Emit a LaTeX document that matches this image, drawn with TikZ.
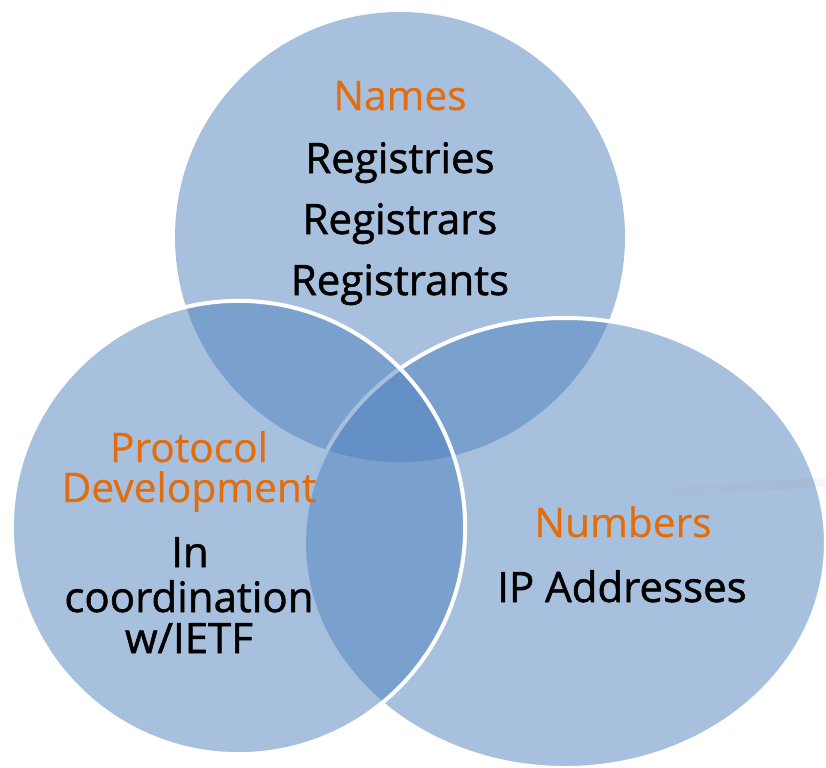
\documentclass[tikz,border=0pt]{standalone}
\usepackage{fontspec}
\setmainfont{Open Sans}
\newfontfamily\itemfont[FakeBold=1.2]{Open Sans}
\newfontfamily\headfont[FakeBold=0.4]{Open Sans}
\usetikzlibrary{shapes.geometric,fadings}
\definecolor{vennblue}{RGB}{79,129,189}
\definecolor{headorange}{RGB}{228,108,10}
\tikzstyle{set}=[circle, fill=vennblue, fill opacity=0.5, draw=white, line width=3pt, minimum size=337.5pt, inner sep=0pt]
\tikzstyle{head}=[anchor=base, inner sep=0pt, text=headorange, font=\headfont\fontsize{30.5}{36}\selectfont]
\tikzstyle{item}=[anchor=base, inner sep=0pt, text=black, font=\itemfont\fontsize{31.5}{38}\selectfont]
\tikzfading[name=streakfade, left color=transparent!100, right color=transparent!30]

\begin{document}
\begin{tikzpicture}[x=0.75pt, y=-0.75pt]
	\useasboundingbox (0,0) rectangle (826,768);

	% the three sets, top one without outline
	\node[set, draw=none](names) at (400,237){};
	\node[set, ellipse, minimum width=391.5pt, minimum height=337.5pt](numbers) at (565,543){};
	\node[set, minimum size=340pt](protocol) at (238.5,527.5){};

	% faint streak on the right
	\coordinate (streakA) at (630,494);
	\coordinate (streakB) at (826,482);
	\draw[gray, line width=7pt, draw opacity=0.09, path fading=streakfade] (streakA) -- (streakB);

	\node[head](namesHead) at (400,110){Names};
	\node[item](registries) at (400,173){Registries};
	\node[item](registrars) at (400,234){Registrars};
	\node[item](registrants) at (400,295){Registrants};

	\node[head](protocolHead) at (189,462){Protocol};
	\node[head](development) at (189,502){Development};
	\node[item](in) at (190,567){In};
	\node[item](coordination) at (189,612){coordination};
	\node[item](ietf) at (189,653){w/IETF};

	\node[head](numbersHead) at (623,537){Numbers};
	\node[item](ip) at (622,602){IP Addresses};
\end{tikzpicture}
\end{document}
